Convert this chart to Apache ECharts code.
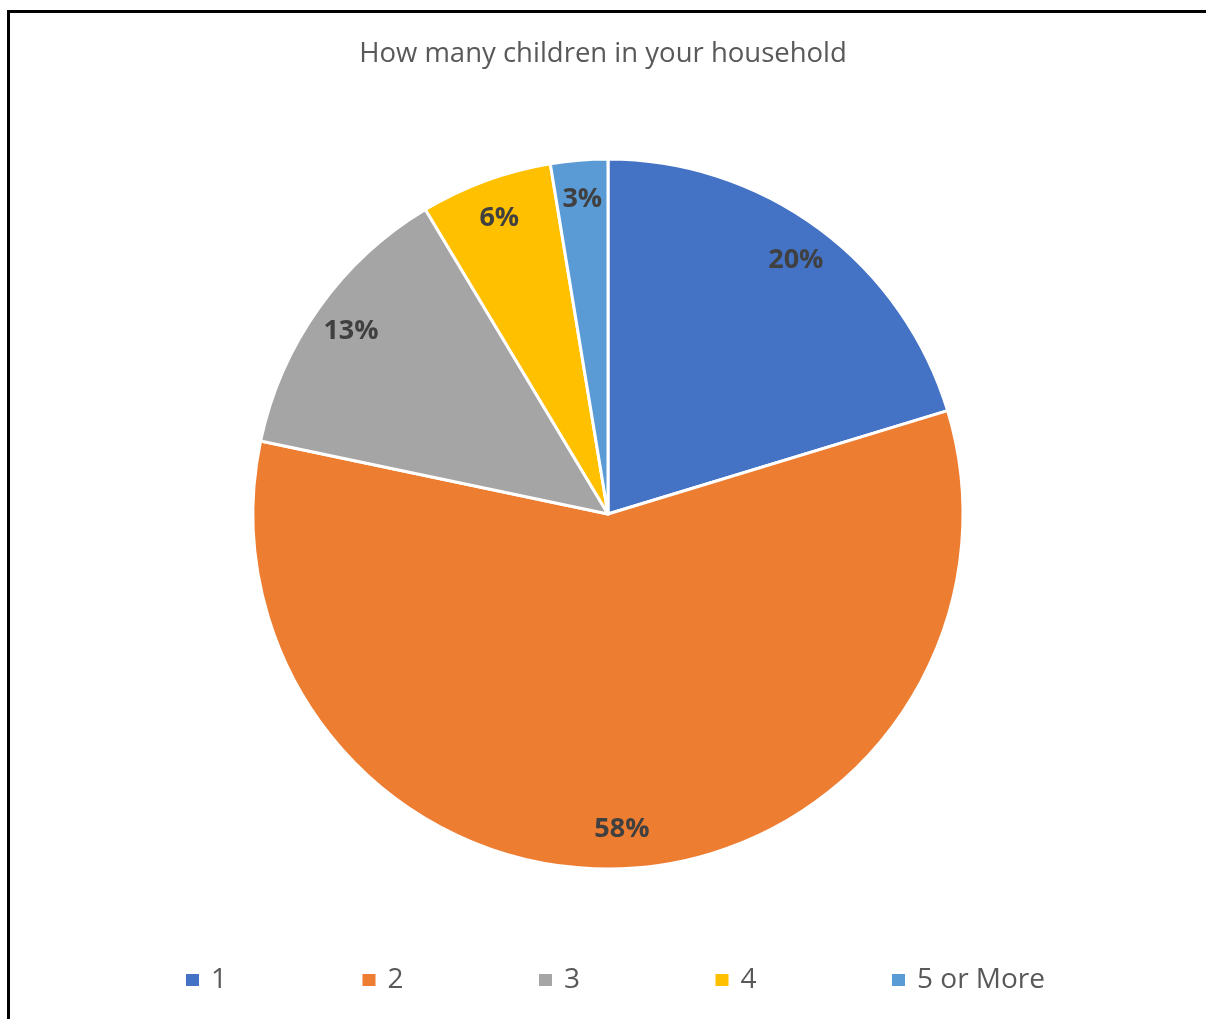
<!DOCTYPE html>
<html>
<head>
<meta charset="utf-8">
<script src="https://cdn.jsdelivr.net/npm/echarts@6/dist/echarts.min.js"></script>
<style>
  html, body { margin: 0; padding: 0; background: #fff; overflow: hidden; }
  .frame {
    position: absolute;
    left: 7px;
    top: 10px;
    width: 1300px;
    height: 1100px;
    border: 3px solid #000;
  }
  #pieChart {
    position: absolute;
    left: 0;
    top: 0;
    width: 1206px;
    height: 1019px;
  }
</style>
</head>
<body>
<div class="frame"></div>
<div id="pieChart"></div>
<script>
// chart data
const categories = ["1", "2", "3", "4", "5 or More"];
const shares = [20.3, 58.0, 13.1, 6.0, 2.6];
const colors = ["#4472C4", "#ED7D31", "#A5A5A5", "#FFC000", "#5B9BD5"];

const chart = echarts.init(document.getElementById("pieChart"));

const pieData = categories.map((name, i) => ({
  name: name,
  value: shares[i],
  itemStyle: { color: colors[i] },
}));

// Excel spaces legend entries evenly, so one legend per entry
const legendSlot = 176.5;
const legends = categories.map((name, i) => ({
  data: [name],
  left: 186 + i * legendSlot,
  top: 966,
  padding: 0,
  icon: "rect",
  itemWidth: 13,
  itemHeight: 12,
  itemTextGap: 5,
  itemStyle: { borderWidth: 0 },
  textStyle: {
    fontFamily: "Open Sans",
    fontSize: 28,
    color: "#595959",
    padding: [0, 0, 0, 7],
  },
}));

chart.setOption({
  animation: false,
  title: {
    text: "How many children in your household",
    left: "center",
    top: 35,
    textStyle: {
      fontFamily: "Open Sans",
      fontSize: 27.5,
      fontWeight: "normal",
      color: "#595959",
    },
  },
  legend: legends,
  series: [
    {
      // slices
      name: "children",
      type: "pie",
      center: [608, 514],
      radius: [0, 355],
      startAngle: 90,
      clockwise: true,
      itemStyle: { borderColor: "#fff", borderWidth: 3 },
      label: { show: false },
      labelLine: { show: false },
      emphasis: { disabled: true },
      data: pieData,
    },
    {
      // transparent ring only for placing labels near the rim
      name: "labels",
      type: "pie",
      silent: true,
      center: [608, 514],
      radius: [270, 355],
      startAngle: 90,
      clockwise: true,
      itemStyle: { color: "rgba(0,0,0,0)", borderWidth: 0 },
      label: {
        show: true,
        position: "inside",
        rotate: 0,
        formatter: (p) => Math.round(p.percent) + "%",
        fontFamily: "Open Sans",
        fontWeight: "bold",
        fontSize: 27,
        color: "#404040",
      },
      labelLine: { show: false },
      emphasis: { disabled: true },
      data: categories.map((name, i) => ({ name: name, value: shares[i] })),
    },
  ],
});
</script>
</body>
</html>
